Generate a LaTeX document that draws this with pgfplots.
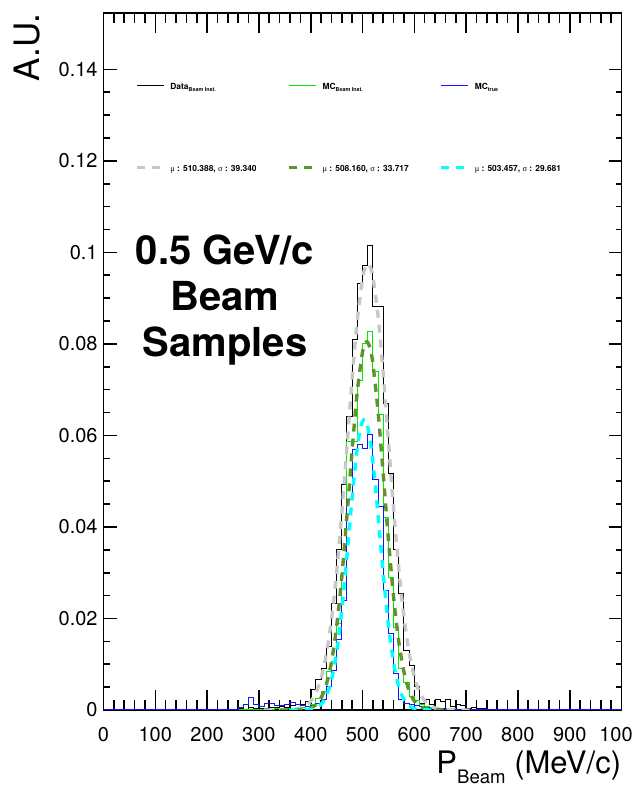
\documentclass[border=0pt]{standalone}
\usepackage{fontspec}
\setmainfont{TeX Gyre Heros}
\newfontfamily\symfont{Liberation Serif}
\usepackage{pgfplots}
\usepackage{pgfplotstable}
\pgfplotsset{compat=1.18}
\definecolor{fitgray}{RGB}{200,200,200}
\definecolor{fitgreen}{RGB}{98,145,45}
\definecolor{mcgreen}{RGB}{0,235,0}
\definecolor{truecyan}{RGB}{0,255,255}
\definecolor{trueblue}{RGB}{20,20,255}

\pgfplotstableread{
x data mc true
0 0 0 0.0001
10 0 0 0.0001
20 0 0 0.0001
30 0 0 0.0001
40 0 0 0.0001
50 0 0 0.0001
60 0 0 0.0001
70 0 0 0.0001
80 0 0 0.0001
90 0 0 0.0001
100 0 0 0.0001
110 0 0 0.0001
120 0 0 0.0001
130 0 0 0.0001
140 0 0 0.0001
150 0 0.0002 0.0001
160 0 0.0002 0.0001
170 0 0 0.0001
180 0 0 0.0001
190 0 0 0.0001
200 0 0 0.0001
210 0 0 0.0001
220 0 0 0.0001
230 0 0 0.0001
240 0 0 0.0001
250 0 0.0001 0.0002
260 0.0003 0.0002 0.0006
270 0.0002 0.0002 0.0012
280 0.0005 0.0002 0.0028
290 0.0003 0.0002 0.0012
300 0.0004 0.0001 0.0007
310 0.0003 0.0001 0.0014
320 0.0006 0.0002 0.0015
330 0.0005 0.0003 0.0009
340 0.0008 0.0002 0.0010
350 0.0006 0.0003 0.0013
360 0.0010 0.0002 0.0017
370 0.0011 0.0004 0.0012
380 0.0012 0.0006 0.0009
390 0.0018 0.0008 0.0008
400 0.0044 0.0012 0.0009
410 0.0066 0.0025 0.0015
420 0.0091 0.0040 0.0022
430 0.0138 0.0085 0.0051
440 0.0233 0.0105 0.0087
450 0.0350 0.0190 0.0153
460 0.0492 0.0300 0.0240
470 0.0641 0.0586 0.0460
480 0.0809 0.0586 0.0570
490 0.0932 0.0721 0.0581
500 0.0972 0.0801 0.0572
510 0.1015 0.0828 0.0601
520 0.0881 0.0739 0.0503
530 0.0881 0.0645 0.0444
540 0.0670 0.0420 0.0262
550 0.0517 0.0290 0.0168
560 0.0350 0.0180 0.0080
570 0.0255 0.0090 0.0022
580 0.0131 0.0060 0.0015
590 0.0098 0.0030 0.0011
600 0.0051 0.0020 0.0010
610 0.0015 0.0012 0.0008
620 0.0022 0.0008 0.0005
630 0.0011 0.0006 0.0004
640 0.0024 0.0004 0.0003
650 0.0018 0.0004 0.0003
660 0.0022 0.0003 0.0002
670 0.0008 0.0003 0.0002
680 0.0011 0.0002 0.0002
690 0.0009 0.0002 0.0001
700 0.0004 0.0002 0.0001
710 0.0005 0.0001 0.0001
720 0.0003 0.0001 0.0001
730 0.0003 0.0002 0.0001
740 0.0002 0.0002 0.0001
750 0.0002 0.0001 0.0001
760 0.0001 0.0001 0.0001
770 0.0002 0.0001 0.0001
780 0 0.0001 0.0001
790 0 0.0001 0.0001
800 0 0.0002 0.0001
810 0 0.0002 0.0001
820 0 0.0001 0.0001
830 0 0.0001 0.0001
840 0 0.0002 0.0001
850 0 0.0001 0.0001
860 0 0.0002 0.0001
870 0 0.0001 0.0001
880 0 0.0001 0.0001
890 0 0.0001 0.0001
900 0 0.0001 0.0001
910 0 0.0001 0.0001
920 0 0.0001 0.0001
930 0 0.0001 0.0001
940 0 0.0001 0.0001
950 0 0.0001 0.0001
960 0 0.0001 0.0001
970 0 0.0001 0.0001
980 0 0.0001 0.0001
990 0 0.0002 0.0001
1000 0 0.0002 0.0001
}\hist

\pgfplotstableread{
x y
310 0
320 0.000001
330 0.000003
340 0.000008
350 0.000024
360 0.000065
370 0.000167
380 0.0004
390 0.0009
400 0.0019
410 0.00376
420 0.00696
430 0.01209
440 0.01968
450 0.03002
460 0.04293
470 0.05757
480 0.07234
490 0.08525
500 0.09416
505 0.09659
510 0.0975
515 0.09683
520 0.09463
530 0.0861
540 0.07345
550 0.05874
560 0.04402
570 0.03093
580 0.02038
590 0.01258
600 0.00728
610 0.00395
620 0.00201
630 0.00096
640 0.00043
650 0.00018
660 0.00007
670 0.000026
680 0.000009
690 0.000003
700 0.000001
710 0
}\fitdata

\pgfplotstableread{
x y
340 0
350 0.000001
360 0.000005
370 0.000018
380 0.000059
390 0.000173
400 0.00047
410 0.00116
420 0.00264
430 0.00548
440 0.01043
450 0.01819
460 0.02903
470 0.04243
480 0.05679
490 0.06963
500 0.07818
505 0.08015
510 0.08038
515 0.07886
520 0.07569
530 0.06526
540 0.05154
550 0.03728
560 0.02469
570 0.01497
580 0.00832
590 0.00423
600 0.00197
610 0.00084
620 0.00033
630 0.00012
640 0.00004
650 0.000012
660 0.000004
670 0
}\fitmc

\pgfplotstableread{
x y
360 0
370 0.000003
380 0.000011
390 0.000043
400 0.000146
410 0.000446
420 0.00122
430 0.00297
440 0.00646
450 0.01254
460 0.02174
470 0.03364
480 0.04647
490 0.0573
495 0.06097
500 0.06307
505 0.06341
510 0.06198
520 0.05437
530 0.04257
540 0.02976
550 0.01857
560 0.01034
570 0.00514
580 0.00228
590 0.00091
600 0.00032
610 0.0001
620 0.00003
630 0.000007
640 0
}\fittrue

\newcommand{\lstrut}{\rule[-2pt]{0pt}{5pt}}
\newcommand{\lsub}[1]{\raisebox{-1.3pt}{\fontsize{2.7}{3}\selectfont #1}}

\begin{document}
\begin{tikzpicture}
\useasboundingbox (0,0) rectangle (316pt,393pt);
\begin{axis}[
  at={(51.75pt,38pt)}, anchor=south west,
  scale only axis, width=259pt, height=348.35pt,
  xmin=0, xmax=1000, ymin=0, ymax=0.15225,
  axis line style={line width=0.8pt},
  every tick/.style={black, line width=0.8pt},
  tick align=inside, xtick pos=both, ytick pos=both,
  xtick={0,100,200,300,400,500,600,700,800,900,1000},
  xticklabels={0,100,200,300,400,500,600,700,800,900,1000},
  ytick={0,0.02,0.04,0.06,0.08,0.1,0.12,0.14},
  yticklabels={0,0.02,0.04,0.06,0.08,0.1,0.12,0.14},
  minor x tick num=4, minor y tick num=3,
  xtick style={/pgfplots/major tick length=10pt,/pgfplots/minor tick length=5pt},
  ytick style={/pgfplots/major tick length=6.5pt,/pgfplots/minor tick length=3pt},
  xticklabel style={font=\fontsize{10}{12}\selectfont, inner sep=0pt, anchor=north, yshift=-8.5pt},
  yticklabel style={font=\fontsize{10}{12}\selectfont, inner sep=0pt, anchor=east, xshift=-2.75pt},
  xlabel={P\raisebox{-5pt}{\fontsize{9.3}{10}\selectfont Beam} (MeV/c)},
  xlabel style={at={(rel axis cs:1,0)}, anchor=base east, inner sep=0pt, yshift=-31.5pt, font=\fontsize{15.5}{18}\selectfont},
  ylabel={A.U.},
  ylabel style={at={(rel axis cs:-0.1245,1)}, anchor=base east, rotate=0, inner sep=0pt, font=\fontsize{17.5}{20}\selectfont},
  legend columns=3,
  legend cell align=left,
  legend style={at={(rel axis cs:0.0608,0.9004)}, anchor=north west, draw=none, fill=none,
    inner sep=0pt, row sep=36.5pt, font=\fontsize{4.2}{5}\selectfont\bfseries,
    nodes={inner sep=0pt},
    /tikz/every odd column/.append style={column sep=2.5pt}},
  legend image code/.code={\draw[#1] (0pt,1.2pt) -- (13.3pt,1.2pt);},
]
\addplot[const plot, black, line width=0.5pt, legend image post style={line width=0.75pt}] table[x=x,y=data]{\hist};
\addlegendentry{\makebox[58.6pt][l]{\lstrut Data\lsub{Beam Inst.}}}
\addplot[const plot, mcgreen, line width=0.5pt, legend image post style={line width=0.75pt}] table[x=x,y=mc]{\hist};
\addlegendentry{\makebox[58.6pt][l]{\lstrut MC\lsub{Beam Inst.}}}
\addplot[const plot, trueblue, line width=0.5pt, legend image post style={line width=0.75pt}] table[x=x,y=true]{\hist};
\addlegendentry{\makebox[58.6pt][l]{\lstrut MC\lsub{true}}}
\addplot[smooth, fitgray, line width=1.7pt, dash pattern=on 4pt off 3.5pt] table[x=x,y=y]{\fitdata};
\addlegendentry{\makebox[58.6pt][l]{\lstrut{\symfont\mdseries μ} : 510.388, {\symfont\mdseries σ} : 39.340}}
\addplot[smooth, fitgreen, line width=1.7pt, dash pattern=on 4pt off 3.5pt] table[x=x,y=y]{\fitmc};
\addlegendentry{\makebox[58.6pt][l]{\lstrut{\symfont\mdseries μ} : 508.160, {\symfont\mdseries σ} : 33.717}}
\addplot[smooth, truecyan, line width=1.7pt, dash pattern=on 4pt off 3.5pt] table[x=x,y=y]{\fittrue};
\addlegendentry{\makebox[58.6pt][l]{\lstrut{\symfont\mdseries μ} : 503.457, {\symfont\mdseries σ} : 29.681}}
\node[anchor=base, align=center, font=\fontsize{20}{23}\selectfont\bfseries, inner sep=0pt]
  at (axis cs:234.6,0.0773) {0.5 GeV/c\\Beam\\Samples};
\end{axis}
\end{tikzpicture}
\end{document}
